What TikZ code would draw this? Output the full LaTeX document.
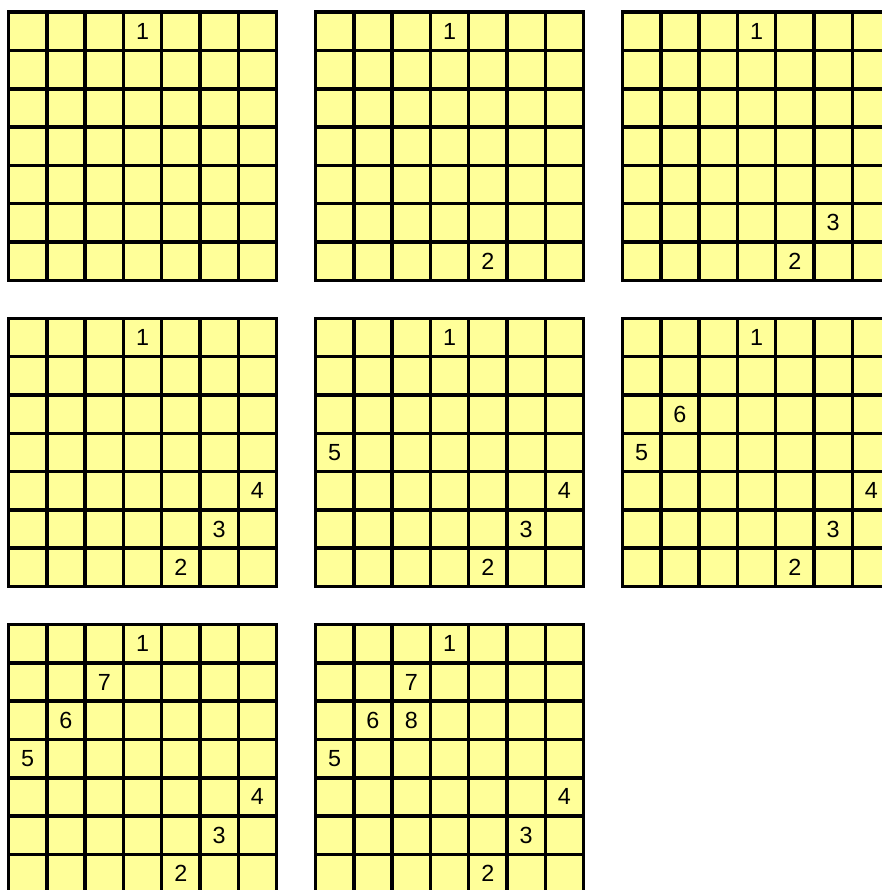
\documentclass[tikz,border=0pt]{standalone}
\usepackage{fontspec}
\setmainfont{Liberation Sans}
\definecolor{cellyellow}{RGB}{255,255,153}
\newcommand\drawboard[4]{%
  \fill[cellyellow] (#2,#3) rectangle ++(268.1,268.1);
  \foreach \i in {0,...,7} {
    \draw[gridline] (#2+\i*38.3, #3) -- (#2+\i*38.3, #3+268.1);
    \draw[gridline] (#2, #3+\i*38.3) -- (#2+268.1, #3+\i*38.3);
  }
  \foreach \n/\r/\c in {#4}
    \node[num] (b#1n\n) at (#2+\c*38.3+19.15, #3+\r*38.3+19.15) {\n};
}
\begin{document}
\begin{tikzpicture}[x=0.75pt,y=-0.75pt,
  gridline/.style={line width=2.6pt, line cap=rect, black},
  num/.style={font=\fontsize{17.5}{19}\selectfont, inner sep=0pt}]
\useasboundingbox (0,0) rectangle (882,890);
\clip (0,0) rectangle (882,890);
\drawboard{1}{8.5}{12.2}{1/0/3}
\drawboard{2}{315.5}{12.2}{1/0/3,2/6/4}
\drawboard{3}{622.5}{12.2}{1/0/3,2/6/4,3/5/5}
\drawboard{4}{8.5}{318.4}{1/0/3,2/6/4,3/5/5,4/4/6}
\drawboard{5}{315.5}{318.4}{1/0/3,2/6/4,3/5/5,4/4/6,5/3/0}
\drawboard{6}{622.5}{318.4}{1/0/3,2/6/4,3/5/5,4/4/6,5/3/0,6/2/1}
\drawboard{7}{8.5}{624.6}{1/0/3,2/6/4,3/5/5,4/4/6,5/3/0,6/2/1,7/1/2}
\drawboard{8}{315.5}{624.6}{1/0/3,2/6/4,3/5/5,4/4/6,5/3/0,6/2/1,7/1/2,8/2/2}
\end{tikzpicture}
\end{document}
